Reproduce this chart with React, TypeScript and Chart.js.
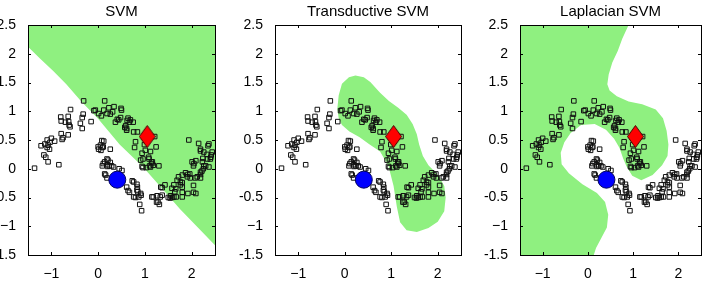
import React, { useEffect, useRef } from 'react';
import { Chart, registerables } from 'chart.js';

Chart.register(...registerables);

type Pt = [number, number];

const TITLES = ['SVM', 'Transductive SVM', 'Laplacian SVM'];
const X_RANGE: Pt = [-1.5, 2.5];
const Y_RANGE: Pt = [-1.5, 2.5];
const X_TICKS = [-1, 0, 1, 2];
const X_TICK_LABELS = ['\u22121', '0', '1', '2'];
const Y_TICKS = [-1.5, -1, -0.5, 0, 0.5, 1, 1.5, 2, 2.5];
const Y_TICK_LABELS = ['-1.5', '\u22121', '-0.5', '0', '0.5', '1', '1.5', '2', '2.5'];

// unlabeled points, upper moon
const UPPER_MOON: Pt[] = [
  [-1.36, 0.01], [-0.84, 0.07], [-1.07, 0.12], [-1.12, 0.2], [-1.16, 0.24], [-1.04, 0.34],
  [-1.09, 0.37], [-1.07, 0.41], [-1.22, 0.4], [-1.14, 0.43], [-1.03, 0.46], [-0.93, 0.48],
  [-1.09, 0.5], [-1.0, 0.53], [-0.77, 0.51], [-0.75, 0.54], [-0.64, 0.59], [-0.79, 0.61],
  [-0.34, 0.7], [-0.38, 0.79], [-0.6, 0.73], [-0.62, 0.76], [-0.63, 0.82], [-0.7, 0.81],
  [-0.79, 0.83], [-0.64, 0.91], [-0.8, 0.9], [-0.34, 0.89], [-0.32, 0.95], [-0.59, 1.03],
  [-0.31, 1.18], [-0.09, 1.01], [-0.15, 0.82], [0.14, 1.18], [0.34, 1.08], [0.49, 1.05],
  [0.5, 1.02], [0.23, 1.06], [0.12, 1.02], [-0.06, 1.02], [0.01, 0.96], [0.07, 0.92],
  [0.19, 0.96], [0.26, 0.95], [0.31, 0.99], [0.44, 0.85], [0.48, 0.89], [0.41, 0.86],
  [0.37, 0.81], [0.64, 0.88], [0.69, 0.85], [0.67, 0.81], [0.62, 0.84], [0.75, 0.81],
  [0.57, 0.72], [0.59, 0.75], [0.61, 0.7], [0.61, 0.67], [0.76, 0.64], [0.84, 0.64],
  [0.8, 0.47], [0.78, 0.37], [0.99, 0.42], [1.01, 0.32], [0.94, 0.27], [1.12, 0.3],
  [1.24, 0.38], [1.21, 0.56], [0.91, 0.15], [0.96, 0.17], [1.09, 0.17], [1.14, 0.12],
  [1.16, 0.12], [1.08, 0.2], [1.18, 0.06], [1.15, 0.09], [1.12, 0.03], [1.1, 0.05],
  [0.94, 0.04], [0.96, 0.02], [1.03, 0.02], [1.3, 0.05],
];

// unlabeled points, lower moon
const LOWER_MOON: Pt[] = [
  [0.12, 0.48], [0.08, 0.49], [0.05, 0.41], [0.09, 0.37], [0.0, 0.38], [0.11, 0.38],
  [0.06, 0.32], [0.01, 0.34], [0.26, 0.34], [0.19, 0.17], [0.21, 0.15], [0.14, 0.12],
  [0.26, 0.11], [0.11, 0.09], [0.19, 0.07], [0.09, 0.05], [0.2, 0.04], [0.24, 0.05],
  [0.29, 0.05], [0.33, 0.03], [0.45, 0.0], [0.51, -0.03], [0.14, -0.09], [0.16, -0.11],
  [0.19, -0.16], [0.73, -0.21], [0.76, -0.23], [0.83, -0.27], [0.84, -0.32], [0.61, -0.32],
  [0.64, -0.38], [0.67, -0.41], [0.83, -0.37], [0.85, -0.4], [0.91, -0.43], [0.92, -0.46],
  [0.87, -0.49], [0.76, -0.49], [0.8, -0.5], [0.89, -0.62], [0.93, -0.73], [1.15, -0.49],
  [1.18, -0.49], [1.26, -0.47], [1.33, -0.49], [1.28, -0.58], [1.31, -0.62], [1.25, -0.58],
  [1.34, -0.32], [1.37, -0.33], [1.37, -0.46], [1.43, -0.28], [1.5, -0.5], [1.54, -0.51],
  [1.55, -0.47], [1.58, -0.5], [1.62, -0.49], [1.67, -0.49], [1.8, -0.49], [1.58, -0.34],
  [1.62, -0.28], [1.64, -0.4], [1.66, -0.35], [1.69, -0.2], [1.72, -0.14], [1.76, -0.28],
  [1.76, -0.23], [1.8, -0.24], [1.8, -0.11], [1.8, -0.41], [1.8, -0.32], [1.87, -0.07],
  [1.92, -0.1], [1.91, -0.14], [1.92, -0.43], [1.97, -0.16], [1.96, -0.09], [2.04, -0.41],
  [2.04, -0.29], [2.09, -0.43], [2.08, -0.16], [2.12, -0.14], [2.19, -0.16], [2.19, -0.1],
  [2.19, -0.06], [2.22, -0.04], [2.25, 0.0], [2.01, 0.12], [2.04, 0.05], [2.05, 0.09],
  [2.09, 0.14], [2.23, 0.12], [2.26, 0.05], [2.3, 0.05], [2.37, 0.03], [2.34, 0.17],
  [2.4, 0.17], [2.41, 0.2], [2.24, 0.18], [2.26, 0.29], [2.19, 0.31], [2.33, 0.25],
  [2.42, 0.24], [2.44, 0.29], [2.19, 0.34], [2.35, 0.4], [2.37, 0.43], [2.15, 0.44],
  [1.94, 0.5],
];

const LABELED_POS: Pt = [1.05, 0.56];
const LABELED_NEG: Pt = [0.41, -0.19];

// decision regions (green) per panel
const REGION_SVM: Pt[] = [
  [-1.5, 2.5], [-1.5, 2.12], [-1.25, 1.92], [-0.96, 1.7], [-0.68, 1.47], [-0.36, 1.17],
  [0.0, 0.87], [0.46, 0.42], [0.96, 0.03], [1.32, -0.3], [1.75, -0.7], [2.18, -1.06],
  [2.5, -1.33], [2.5, 2.5],
];
const REGION_TSVM: Pt[] = [
  [-0.16, 1.04], [-0.13, 1.28], [-0.06, 1.48], [0.09, 1.59], [0.23, 1.62], [0.41, 1.59],
  [0.55, 1.51], [0.76, 1.32], [0.95, 1.18], [1.15, 1.06], [1.33, 0.94], [1.46, 0.78],
  [1.55, 0.6], [1.6, 0.42], [1.68, 0.22], [1.8, 0.06], [2.02, -0.12], [2.14, -0.3],
  [2.17, -0.5], [2.14, -0.74], [2.0, -0.92], [1.8, -1.03], [1.55, -1.1], [1.33, -1.07],
  [1.19, -0.93], [1.12, -0.66], [1.05, -0.3], [0.94, 0.05], [0.76, 0.3], [0.52, 0.43],
  [0.32, 0.55], [0.1, 0.65], [-0.06, 0.76], [-0.13, 0.88],
];
const REGION_LAPSVM: Pt[] = [
  [-1.5, -1.5], [-1.5, 2.5], [0.9, 2.5], [0.76, 2.26], [0.66, 2.05], [0.54, 1.85],
  [0.46, 1.64], [0.43, 1.47], [0.48, 1.36], [0.64, 1.26], [0.9, 1.17], [1.2, 1.12],
  [1.5, 1.03], [1.66, 0.88], [1.74, 0.66], [1.78, 0.42], [1.76, 0.22], [1.64, 0.06],
  [1.43, -0.11], [1.18, -0.2], [0.98, -0.12], [0.85, 0.05], [0.78, 0.18], [0.7, 0.36],
  [0.58, 0.52], [0.4, 0.68], [0.15, 0.78], [-0.15, 0.76], [-0.38, 0.62], [-0.52, 0.46],
  [-0.6, 0.28], [-0.58, 0.08], [-0.42, -0.08], [-0.12, -0.27], [0.2, -0.42], [0.38, -0.58],
  [0.45, -0.8], [0.42, -1.02], [0.3, -1.2], [0.18, -1.38], [0.13, -1.5],
];
const REGIONS = [REGION_SVM, REGION_TSVM, REGION_LAPSVM];

const GREEN = 'rgb(143,240,128)';
const FONT = 'Liberation Sans, Arial, Helvetica, sans-serif';

const toXY = (a: Pt[]) => a.map(([x, y]) => ({ x, y }));

let diamondImg: HTMLCanvasElement | null = null;
function getDiamond() {
  if (diamondImg) return diamondImg;
  const w = 17, h = 23;
  const c = document.createElement('canvas');
  c.width = w; c.height = h;
  const g = c.getContext('2d')!;
  g.beginPath();
  g.moveTo(w / 2, 0.5);
  g.lineTo(w - 0.5, h / 2);
  g.lineTo(w / 2, h - 0.5);
  g.lineTo(0.5, h / 2);
  g.closePath();
  g.fillStyle = '#FF0000';
  g.fill();
  g.strokeStyle = '#400000';
  g.lineWidth = 1;
  g.stroke();
  diamondImg = c;
  return c;
}

const frameTicks = {
  id: 'frameTicks',
  afterDatasetsDraw(chart: any) {
    const { ctx, chartArea: a, scales } = chart;
    const xs = scales.x, ys = scales.y;
    const TL = 3;
    ctx.save();
    ctx.strokeStyle = '#000';
    ctx.lineWidth = 1;
    ctx.beginPath();
    for (const v of X_TICKS) {
      const px = Math.round(xs.getPixelForValue(v)) + 0.5;
      ctx.moveTo(px, a.bottom); ctx.lineTo(px, a.bottom - TL);
      ctx.moveTo(px, a.top); ctx.lineTo(px, a.top + TL);
    }
    for (const v of Y_TICKS) {
      const py = Math.round(ys.getPixelForValue(v)) + 0.5;
      ctx.moveTo(a.left, py); ctx.lineTo(a.left + TL, py);
      ctx.moveTo(a.right, py); ctx.lineTo(a.right - TL, py);
    }
    ctx.stroke();
    ctx.strokeRect(Math.round(a.left) + 0.5, Math.round(a.top) + 0.5,
      Math.round(a.right) - Math.round(a.left), Math.round(a.bottom) - Math.round(a.top));
    ctx.restore();
  },
};

interface PanelProps {
  idx: number;
  left: number;
  width: number;
  axisWidth: number;
  padRight: number;
}

function Panel({ idx, left, width, axisWidth, padRight }: PanelProps) {
  const ref = useRef<HTMLCanvasElement>(null);
  useEffect(() => {
    const canvas = ref.current!;
    const chart = new Chart(canvas, {
      type: 'scatter',
      data: {
        datasets: [
          {
            data: toXY([LABELED_POS]),
            pointStyle: getDiamond() as any,
            pointRadius: 10,
            order: 1,
          } as any,
          {
            data: toXY([LABELED_NEG]),
            pointStyle: 'circle',
            pointRadius: 8.5,
            backgroundColor: '#0000FF',
            borderColor: '#000060',
            borderWidth: 1,
            order: 1,
          },
          {
            data: toXY([...UPPER_MOON, ...LOWER_MOON]),
            pointStyle: 'rect',
            pointRadius: 3.2,
            backgroundColor: 'rgba(0,0,0,0)',
            borderColor: '#111',
            borderWidth: 1,
            order: 2,
          },
          {
            data: toXY(REGIONS[idx]),
            showLine: true,
            fill: 'shape',
            backgroundColor: GREEN,
            borderColor: 'rgba(0,0,0,0)',
            borderWidth: 0,
            pointRadius: 0,
            tension: 0,
            order: 3,
          } as any,
        ],
      },
      options: {
        responsive: false,
        animation: false,
        events: [],
        layout: { padding: { left: 0, right: padRight, top: 0, bottom: 0 } },
        plugins: {
          legend: { display: false },
          tooltip: { enabled: false },
          title: {
            display: true,
            text: TITLES[idx],
            fullSize: false,
            color: '#000',
            font: { family: FONT, size: 15, weight: 'normal', lineHeight: '16px' } as any,
            padding: { top: 4, bottom: 5 },
          },
        },
        scales: {
          x: {
            type: 'linear',
            min: X_RANGE[0],
            max: X_RANGE[1],
            grid: { display: false },
            border: { display: false },
            afterBuildTicks: (s: any) => { s.ticks = X_TICKS.map((v) => ({ value: v })); },
            afterFit: (s: any) => { s.height = 35; },
            ticks: {
              color: '#000',
              font: { family: FONT, size: 14 },
              padding: 3,
              maxRotation: 0,
              callback: (_v: any, i: number) => X_TICK_LABELS[i],
            },
          },
          y: {
            type: 'linear',
            min: Y_RANGE[0],
            max: Y_RANGE[1],
            grid: { display: false },
            border: { display: false },
            afterBuildTicks: (s: any) => { s.ticks = Y_TICKS.map((v) => ({ value: v })); },
            afterFit: (s: any) => { s.width = axisWidth; },
            ticks: {
              color: '#000',
              font: { family: FONT, size: 14 },
              padding: 4,
              callback: (_v: any, i: number) => Y_TICK_LABELS[i],
            },
          },
        },
      },
      plugins: [frameTicks],
    });
    return () => chart.destroy();
  }, [idx, left, width, axisWidth, padRight]);
  return (
    <canvas
      ref={ref}
      width={width}
      height={290}
      style={{ position: 'absolute', left, top: 0, width, height: 290 }}
    />
  );
}

export default function App() {
  return (
    <div style={{ position: 'absolute', left: 0, top: 0, width: 712, height: 290, background: '#fff', overflow: 'hidden' }}>
      <Panel idx={0} left={0} width={232} axisWidth={28} padRight={17} />
      <Panel idx={1} left={232} width={240} axisWidth={43} padRight={11} />
      <Panel idx={2} left={472} width={240} axisWidth={48} padRight={5} />
    </div>
  );
}
